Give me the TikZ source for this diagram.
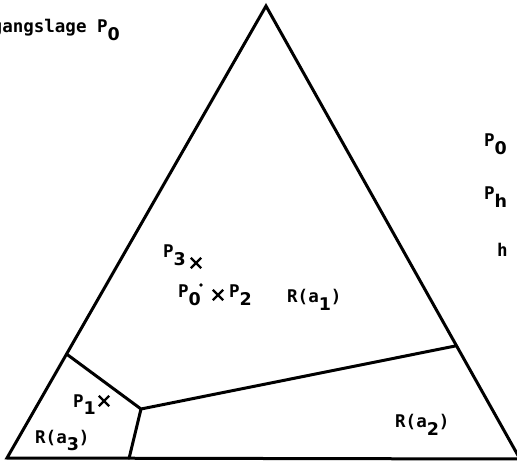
\documentclass[tikz,border=0pt]{standalone}
\usepackage{fontspec}
\setmonofont{DejaVu Sans Mono}
\newfontfamily\subfont{DejaVu Sans}
\usetikzlibrary{calc, shapes.misc}
\newcommand{\dn}[1]{\raisebox{-0.45em}{\subfont\bfseries #1}}
\tikzset{
  edge/.style={line width=3pt, line join=miter, line cap=round},
  lbl/.style={font=\ttfamily\bfseries\fontsize{17.5}{20}\selectfont,
    inner sep=0pt, anchor=base west},
  ptmark/.style={cross out, draw, minimum size=8pt, inner sep=0pt,
    line width=2.4pt},
  dotmark/.style={circle, fill, inner sep=1.4pt}
}

\begin{document}
\begin{tikzpicture}[x=1pt, y=-1pt]
  \useasboundingbox (0,0) rectangle (517,462);
  % corners of the triangle
  \coordinate (top) at (266,6);
  \coordinate (bl) at (7,458);
  \coordinate (br) at (520,459);
  % junctions of the regions
  \coordinate (jl) at ($(top)!0.77!(bl)$);
  \coordinate (jr) at ($(top)!0.75!(br)$);
  \coordinate (jm) at (141,409);
  \coordinate (jb) at ($(bl)!0.238!(br)$);

  % triangle
  \draw[edge] (bl) -- (top) -- (br) -- cycle;
  % region borders
  \draw[edge] (jl) -- (jm) -- (jr);
  \draw[edge] (jm) -- (jb);

  % texts outside
  \node[lbl, anchor=base east] (start) at (120,33) {Ausgangslage P\dn{0}};
  \node[lbl] (p0r) at (484,147) {P\dn{0}};
  \node[lbl] (phr) at (484,200) {P\dn{h}};
  \node[lbl] (hr) at (497,257) {h};

  % points
  \node[lbl] (p3) at (163,258) {P\dn{3}};
  \node[ptmark] (x3) at (196,263) {};
  \node[lbl] (p0) at (178,298) {P\dn{0}};
  \node[dotmark] (d0) at (201,285) {};
  \node[ptmark] (x2) at (218,295) {};
  \node[lbl] (p2) at (229,298) {P\dn{2}};
  \node[lbl] (p1) at (73,407) {P\dn{1}};
  \node[ptmark] (x1) at (104,401) {};

  % regions
  \node[lbl] (ra1) at (287,303) {R(a\dn{1})};
  \node[lbl] (ra2) at (395,428) {R(a\dn{2})};
  \node[lbl] (ra3) at (35,443) {R(a\dn{3})};
\end{tikzpicture}
\end{document}
